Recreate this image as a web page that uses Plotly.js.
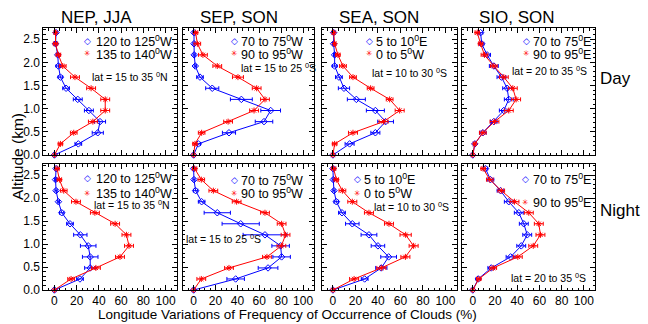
<!DOCTYPE html>
<html><head><meta charset="utf-8">
<script src="https://cdn.plot.ly/plotly-3.0.1.min.js"></script>
<style>html,body{margin:0;padding:0;background:#fff}#c{width:648px;height:324px}</style>
</head><body><div id="c"></div><script>
// Altitude levels (km), bottom to top
const altitude = [0, 0.24, 0.48, 0.72, 0.96, 1.2, 1.44, 1.68, 1.92, 2.16, 2.4, 2.64];

// ---- Day ----
const nepDayBlue    = [0, 21.5, 39, 41, 31, 21, 10.5, 5.4, 3.6, 3, 1, 1.5];
const nepDayBlueErr = [0, 3, 5, 5, 4, 4, 3, 2, 2, 1, 1, 1];
const nepDayRed     = [0, 5.4, 17.4, 34.6, 45.7, 45.7, 33, 18.5, 7.5, 3.6, 1, 1];
const nepDayRedErr  = [0, 2, 3, 4, 4, 4, 4, 4, 3, 2, 2, 1];

const sepDayBlue    = [0, 4.3, 32.3, 64.3, 70.4, 43.6, 17, 5.8, 1.5, 0.5, 0.3, 0.3];
const sepDayBlueErr = [0, 2, 6, 8, 9, 10, 6, 3, 1, 1, 1, 1];
const sepDayRed     = [0, 1.2, 7.3, 31.5, 55.2, 65.2, 57.6, 40.5, 21.6, 8.5, 3.4, 1.8];
const sepDayRedErr  = [0, 2, 3, 4, 4, 4, 4, 5, 4, 4, 3, 2];

const seaDayBlue    = [0, 14.8, 37.7, 46.8, 37.7, 20.8, 9.8, 5.3, 1.5, 1.5, 0.6, 0.6];
const seaDayBlueErr = [0, 4, 4, 7, 8, 8, 5, 3, 2, 1, 1, 1];
const seaDayRed     = [0, 1.5, 17.8, 45, 59.3, 50.4, 33.5, 17.8, 8.9, 4.4, 1.5, 0.6];
const seaDayRedErr  = [0, 2, 4, 4, 4, 3, 3, 3, 3, 2, 1, 1];

const sioDayBlue    = [0, 1.8, 9, 18.9, 27.9, 32.4, 30.9, 25.8, 18.9, 12.9, 8, 7];
const sioDayBlueErr = [0, 1, 3, 3, 4, 4, 4, 4, 4, 3, 2, 2];
const sioDayRed     = [0, 1.8, 9, 19.5, 32.4, 39, 36, 27.9, 18.9, 10.5, 7, 4];
const sioDayRedErr  = [0, 1, 3, 4, 4, 4, 4, 4, 3, 3, 2, 2];

// ---- Night ----
const nepNightBlue    = [0, 23, 32.2, 32.2, 30.4, 23.3, 14, 6.6, 3.6, 1.5, 1, 1.5];
const nepNightBlueErr = [0, 3, 5, 7, 7, 6, 3, 2, 1, 1, 1, 1];
const nepNightRed     = [0, 15, 37.3, 59, 67.1, 64.8, 54.6, 36.4, 19.4, 8.4, 4.5, 2.4];
const nepNightRedErr  = [0, 3, 4, 4, 4, 4, 4, 4, 4, 3, 2, 2];

const sepNightBlue    = [0, 38.4, 68, 80.4, 79.5, 65.2, 43, 21.6, 7.3, 1.8, 0.3, 0];
const sepNightBlueErr = [0, 8, 9, 8, 8, 20, 17, 12, 3, 2, 1, 1];
const sepNightRed     = [0, 7, 32.3, 67, 80.2, 84, 80.4, 65.2, 39.3, 18, 7, 0.9];
const sepNightRedErr  = [0, 4, 4, 4, 4, 4, 4, 4, 4, 4, 3, 2];

const seaNightBlue    = [0, 28.2, 43, 49.5, 40, 32, 17.2, 8, 3, 0.9, 0.3, 0];
const seaNightBlueErr = [0, 3, 5, 7, 6, 7, 6, 3, 2, 1, 1, 1];
const seaNightRed     = [0, 18.8, 43, 64.4, 71.7, 64.6, 49.8, 32, 17.2, 8.4, 3, 0.6];
const seaNightRedErr  = [0, 4, 4, 4, 4, 5, 4, 4, 4, 3, 2, 2];

const sioNightBlue    = [0, 4.9, 16.6, 34, 43.6, 49, 45.9, 41.4, 32.4, 24.9, 15.9, 11.4];
const sioNightBlueErr = [0, 2, 3, 4, 4, 4, 4, 4, 4, 3, 3, 2];
const sioNightRed     = [0, 5.4, 18.4, 40.5, 54.4, 60.9, 59.4, 50.4, 37.5, 25.6, 15.3, 9.3];
const sioNightRedErr  = [0, 2, 3, 4, 4, 4, 4, 4, 4, 3, 3, 2];

// Labels
const panelTitles = ['NEP, JJA', 'SEP, SON', 'SEA, SON', 'SIO, SON'];
const rowLabels = ['Day', 'Night'];
const blueNames = ['120 to 125<sup>0</sup>W', '70 to 75<sup>0</sup>W', '5 to 10<sup>0</sup>E', '70 to 75<sup>0</sup>E'];
const redNames  = ['135 to 140<sup>0</sup>W', '90 to 95<sup>0</sup>W', '0 to 5<sup>0</sup>W', '90 to 95<sup>0</sup>E'];
const latLabels = ['lat = 15 to 35 <sup>0</sup>N', 'lat = 15 to 25 <sup>0</sup>S', 'lat = 10 to 30 <sup>0</sup>S', 'lat = 20 to 35 <sup>0</sup>S'];
const xTickVals = [0, 20, 40, 60, 80, 100];
const yTickVals = [0, 0.5, 1, 1.5, 2, 2.5];
const yTickText = ['0.0', '0.5', '1.0', '1.5', '2.0', '2.5'];

const series = [
  [nepDayBlue, nepDayBlueErr, nepDayRed, nepDayRedErr],
  [sepDayBlue, sepDayBlueErr, sepDayRed, sepDayRedErr],
  [seaDayBlue, seaDayBlueErr, seaDayRed, seaDayRedErr],
  [sioDayBlue, sioDayBlueErr, sioDayRed, sioDayRedErr],
  [nepNightBlue, nepNightBlueErr, nepNightRed, nepNightRedErr],
  [sepNightBlue, sepNightBlueErr, sepNightRed, sepNightRedErr],
  [seaNightBlue, seaNightBlueErr, seaNightRed, seaNightRedErr],
  [sioNightBlue, sioNightBlueErr, sioNightRed, sioNightRedErr]
];

const W = 648, H = 324;
const colPx = [[43.3, 176.7], [182.7, 314], [321.7, 456.7], [461.7, 595]];
const rowPx = [[28, 155], [164, 290]];
const BLUE = '#0000ff', RED = '#ff0000';
const FONT = 'Liberation Sans, Arial, Helvetica, sans-serif';

const traces = [];
const layout = {
  width: W, height: H, margin: {l: 0, r: 0, t: 0, b: 0},
  paper_bgcolor: '#fff', plot_bgcolor: '#fff', showlegend: false,
  font: {family: FONT, color: '#000', size: 12},
  annotations: []
};

for (let i = 0; i < 8; i++) {
  const r = Math.floor(i / 4), c = i % 4;
  const n = i + 1;
  const xa = 'x' + (n === 1 ? '' : n), ya = 'y' + (n === 1 ? '' : n);
  const [b, be, rd, re] = series[i];
  traces.push({
    x: b, y: altitude, xaxis: xa, yaxis: ya, type: 'scatter', mode: 'lines+markers',
    line: {color: BLUE, width: 1},
    marker: {symbol: 'diamond-open', size: 5, color: BLUE, line: {width: 1, color: BLUE}},
    error_x: {type: 'data', array: be, visible: true, color: BLUE, thickness: 1, width: 2},
    cliponaxis: false
  });
  traces.push({
    x: rd, y: altitude, xaxis: xa, yaxis: ya, type: 'scatter', mode: 'lines+markers',
    line: {color: RED, width: 1},
    marker: {symbol: 'asterisk-open', size: 5, color: RED, line: {width: 1, color: RED}},
    error_x: {type: 'data', array: re, visible: true, color: RED, thickness: 1, width: 2},
    cliponaxis: false
  });
  const xk = 'xaxis' + (n === 1 ? '' : n), yk = 'yaxis' + (n === 1 ? '' : n);
  layout[xk] = {
    domain: [colPx[c][0] / W, colPx[c][1] / W], anchor: ya,
    range: [-10, 110], tickmode: 'array', tickvals: xTickVals,
    ticks: 'inside', ticklen: 5, tickwidth: 1, tickcolor: '#000',
    showline: true, linecolor: '#000', linewidth: 1, mirror: 'ticks',
    showgrid: false, zeroline: false, showticklabels: r === 1,
    tickfont: {size: 12, family: FONT, color: '#000'},
    minor: {ticks: 'inside', ticklen: 2.5, dtick: 5, tick0: 0, tickcolor: '#000', showgrid: false}
  };
  layout[yk] = {
    domain: [1 - rowPx[r][1] / H, 1 - rowPx[r][0] / H], anchor: xa,
    range: [0, 2.74], tickmode: 'array', tickvals: yTickVals, ticktext: yTickText,
    ticks: 'inside', ticklen: 5, tickwidth: 1, tickcolor: '#000',
    showline: true, linecolor: '#000', linewidth: 1, mirror: 'ticks',
    showgrid: false, zeroline: false, showticklabels: c === 0,
    tickfont: {size: 12, family: FONT, color: '#000'},
    minor: {ticks: 'inside', ticklen: 2.5, dtick: 0.1, tick0: 0, tickcolor: '#000', showgrid: false}
  };
}

function A(px, py, text, size, opts) {
  return Object.assign({
    xref: 'paper', yref: 'paper', x: px / W, y: 1 - py / H, text: text,
    showarrow: false, xanchor: 'left', yanchor: 'middle', borderpad: 0,
    font: {family: FONT, size: size, color: '#000'}
  }, opts || {});
}

// Panel titles
const titleX = [96, 239, 379, 517];
panelTitles.forEach((t, c) => layout.annotations.push(A(titleX[c], 17.5, t, 17, {xanchor: 'center'})));
// Row labels
layout.annotations.push(A(599, 79, rowLabels[0], 17));
layout.annotations.push(A(599, 210, rowLabels[1], 17));
// Axis titles
layout.annotations.push(A(18, 157, 'Altitude (km)', 15.5, {xanchor: 'center', textangle: -90}));
layout.annotations.push(A(287, 314, 'Longitude Variations of Frequency of Occurrence of Clouds (%)', 13.5, {xanchor: 'center'}));

// Per-panel legends: [diamondX, diamondY, textX, starY, latX, latY]
const legendPos = [
  [87, 41, 95, 54, 91, 77],
  [234, 41, 240, 54, 240, 67],
  [369, 41, 375, 54, 371, 72],
  [526, 41, 532, 54, 511, 71],
  [87, 178, 95, 193, 93, 204],
  [234, 180, 240, 193, 185, 239],
  [357, 179, 363, 193, 373, 206],
  [525, 179, 532, 202, 510, 277]
];
legendPos.forEach((p, i) => {
  const c = i % 4;
  const [dx, dy, tx, sy, lx, ly] = p;
  layout.annotations.push(A(dx, dy, '◇', 9, {xanchor: 'center', font: {family: 'DejaVu Sans', size: 9, color: BLUE}}));
  layout.annotations.push(A(tx, dy, blueNames[c], 12.5));
  layout.annotations.push(A(dx, sy, '✳', 8, {xanchor: 'center', font: {family: 'DejaVu Sans', size: 8, color: RED}}));
  layout.annotations.push(A(tx, sy, redNames[c], 12.5));
  layout.annotations.push(A(lx, ly, latLabels[c], 10.5));
});

Plotly.newPlot('c', traces, layout, {staticPlot: true, displayModeBar: false});
</script></body></html>
